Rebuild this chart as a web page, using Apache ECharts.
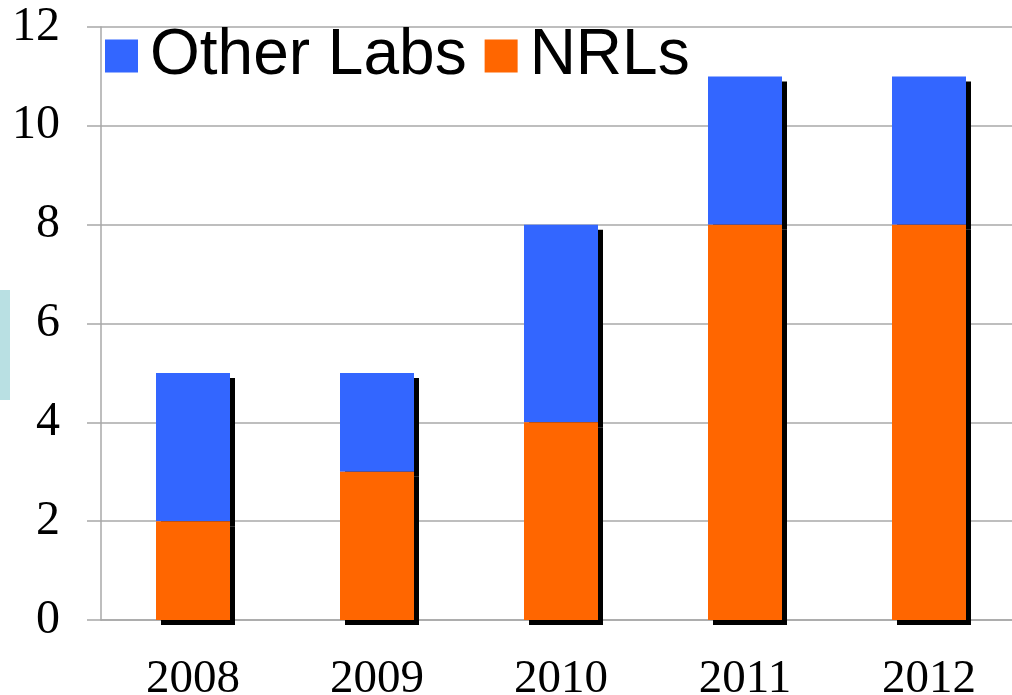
<!DOCTYPE html>
<html><head><meta charset="utf-8">
<script src="https://cdn.jsdelivr.net/npm/echarts@6/dist/echarts.min.js"></script>
<style>html,body{margin:0;padding:0;background:#fff}#c{width:1012px;height:695px}</style>
</head><body><div id="c"></div>
<script>
const years = ['2008','2009','2010','2011','2012'];
const nrls = [2,3,4,8,8];
const otherLabs = [3,2,4,3,3];
const seriesNames = ['Other Labs','NRLs'];

const chart = echarts.init(document.getElementById('c'));
const shadow = {shadowColor:'#000', shadowOffsetX:5, shadowOffsetY:5, shadowBlur:0};
chart.setOption({
  animation:false,
  graphic:[{type:'rect', shape:{x:0,y:290,width:10,height:110}, style:{fill:'#b9e0e3'}}],
  legend:{
    data:seriesNames, left:100, top:19, itemWidth:33, itemHeight:33, itemGap:18,
    icon:'rect', textStyle:{fontFamily:'Liberation Sans', fontSize:64, color:'#000', padding:[0,0,0,7]}
  },
  grid:{left:101, width:920, top:27, height:593, containLabel:false, outerBoundsMode:'none'},
  xAxis:{
    type:'category', data:years,
    axisLine:{lineStyle:{color:'#a8a8a8', width:1.5}},
    axisTick:{length:14, lineStyle:{color:'#a8a8a8', width:1.5}},
    axisLabel:{fontFamily:'Liberation Serif', fontSize:47, color:'#000', margin:36}
  },
  yAxis:{
    type:'value', min:0, max:12, interval:2,
    axisLine:{show:true, lineStyle:{color:'#a8a8a8', width:1.5}},
    axisTick:{show:true, length:14, lineStyle:{color:'#a8a8a8', width:1.5}},
    splitLine:{lineStyle:{color:'#a8a8a8', width:1.5}},
    axisLabel:{fontFamily:'Liberation Serif', fontSize:48, color:'#000', margin:41}
  },
  series:[
    {name:'NRLs', type:'bar', stack:'a', data:nrls, barWidth:74, z:3,
     itemStyle:Object.assign({color:'#ff6600'}, shadow)},
    {name:'Other Labs', type:'bar', stack:'a', data:otherLabs, barWidth:74, z:2,
     itemStyle:Object.assign({color:'#3366ff'}, shadow)}
  ]
});
</script></body></html>
